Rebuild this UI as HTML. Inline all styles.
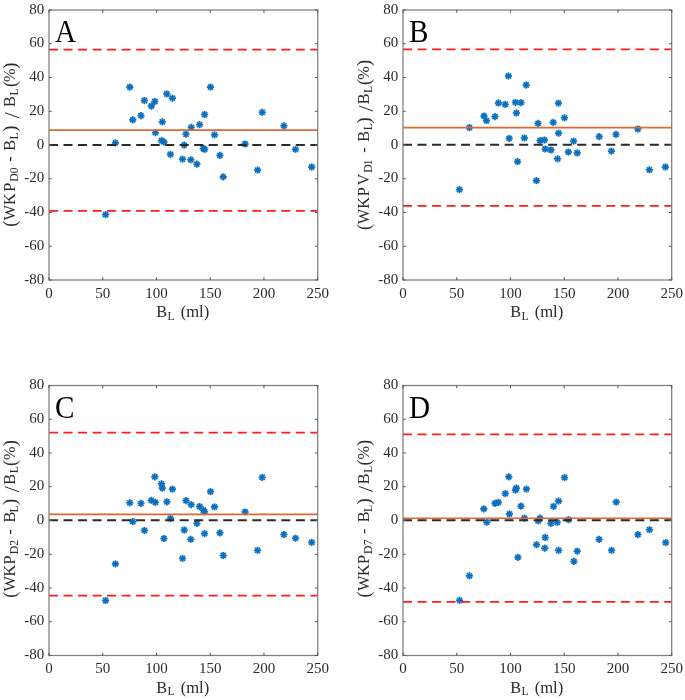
<!DOCTYPE html><html><head><meta charset="utf-8"><style>
html,body{margin:0;padding:0;background:#fff;}
body{width:685px;height:700px;overflow:hidden;}
svg{display:block;font-family:"Liberation Serif", serif;will-change:transform;}
.t{font-size:15.00px;fill:#2b2b2b;}
.l{font-size:16.30px;fill:#2b2b2b;}
.s{font-size:11.60px;fill:#2b2b2b;}
.p{font-size:31.20px;fill:#000;}
</style></head><body>
<svg width="685" height="700" viewBox="0 0 685 700">
<defs><g id="m" stroke="#0a6fbf" stroke-width="1.75" stroke-linecap="butt"><line x1="-3.6" y1="0" x2="3.6" y2="0"/><line x1="0" y1="-3.6" x2="0" y2="3.6"/><line x1="-2.55" y1="-2.55" x2="2.55" y2="2.55"/><line x1="-2.55" y1="2.55" x2="2.55" y2="-2.55"/></g></defs>
<rect width="685" height="700" fill="#fff"/>
<g>
<use href="#m" x="105.6" y="214.6"/>
<use href="#m" x="115.4" y="142.9"/>
<use href="#m" x="129.8" y="87.1"/>
<use href="#m" x="132.8" y="119.9"/>
<use href="#m" x="141.0" y="115.7"/>
<use href="#m" x="144.4" y="100.5"/>
<use href="#m" x="151.3" y="106.1"/>
<use href="#m" x="154.8" y="101.5"/>
<use href="#m" x="155.4" y="132.7"/>
<use href="#m" x="161.5" y="140.6"/>
<use href="#m" x="162.3" y="121.8"/>
<use href="#m" x="163.9" y="141.9"/>
<use href="#m" x="166.9" y="94.0"/>
<use href="#m" x="170.4" y="154.4"/>
<use href="#m" x="172.4" y="98.2"/>
<use href="#m" x="182.5" y="159.2"/>
<use href="#m" x="184.2" y="145.1"/>
<use href="#m" x="186.0" y="134.2"/>
<use href="#m" x="190.8" y="159.8"/>
<use href="#m" x="191.2" y="127.4"/>
<use href="#m" x="196.9" y="164.2"/>
<use href="#m" x="199.6" y="124.7"/>
<use href="#m" x="203.3" y="148.4"/>
<use href="#m" x="204.6" y="149.3"/>
<use href="#m" x="204.6" y="114.5"/>
<use href="#m" x="210.5" y="87.1"/>
<use href="#m" x="214.5" y="134.8"/>
<use href="#m" x="219.9" y="155.4"/>
<use href="#m" x="223.2" y="176.9"/>
<use href="#m" x="245.1" y="144.0"/>
<use href="#m" x="257.6" y="170.1"/>
<use href="#m" x="262.2" y="112.3"/>
<use href="#m" x="283.9" y="125.8"/>
<use href="#m" x="295.5" y="149.3"/>
<use href="#m" x="311.7" y="167.0"/>
</g>
<g>
<line x1="49.00" y1="49.60" x2="317.70" y2="49.60" stroke="#ff1c1c" stroke-width="1.7" stroke-dasharray="9 5.52"/>
<line x1="49.00" y1="210.80" x2="317.70" y2="210.80" stroke="#ff1c1c" stroke-width="1.7" stroke-dasharray="9 5.52"/>
<line x1="49.00" y1="130.10" x2="317.70" y2="130.10" stroke="#e0672f" stroke-width="1.6"/>
<line x1="49.00" y1="145.00" x2="317.70" y2="145.00" stroke="#2a2a2a" stroke-width="2" stroke-dasharray="9 5.52"/>
</g>
<rect x="49.00" y="10.00" width="268.70" height="270.00" fill="none" stroke="#7d7d7d" stroke-width="1.25"/>
<path d="M49.00 280.00v-2.8M49.00 10.00v2.8M102.74 280.00v-2.8M102.74 10.00v2.8M156.48 280.00v-2.8M156.48 10.00v2.8M210.22 280.00v-2.8M210.22 10.00v2.8M263.96 280.00v-2.8M263.96 10.00v2.8M317.70 280.00v-2.8M317.70 10.00v2.8M49.00 10.00h2.8M317.70 10.00h-2.8M49.00 43.75h2.8M317.70 43.75h-2.8M49.00 77.50h2.8M317.70 77.50h-2.8M49.00 111.25h2.8M317.70 111.25h-2.8M49.00 145.00h2.8M317.70 145.00h-2.8M49.00 178.75h2.8M317.70 178.75h-2.8M49.00 212.50h2.8M317.70 212.50h-2.8M49.00 246.25h2.8M317.70 246.25h-2.8M49.00 280.00h2.8M317.70 280.00h-2.8" stroke="#5a5a5a" stroke-width="1.1" fill="none"/>
<text class="t" x="49.00" y="297.80" text-anchor="middle">0</text>
<text class="t" x="102.74" y="297.80" text-anchor="middle">50</text>
<text class="t" x="156.48" y="297.80" text-anchor="middle">100</text>
<text class="t" x="210.22" y="297.80" text-anchor="middle">150</text>
<text class="t" x="263.96" y="297.80" text-anchor="middle">200</text>
<text class="t" x="317.70" y="297.80" text-anchor="middle">250</text>
<text class="t" x="44.30" y="13.50" text-anchor="end">80</text>
<text class="t" x="44.30" y="47.25" text-anchor="end">60</text>
<text class="t" x="44.30" y="81.00" text-anchor="end">40</text>
<text class="t" x="44.30" y="114.75" text-anchor="end">20</text>
<text class="t" x="44.30" y="148.50" text-anchor="end">0</text>
<text class="t" x="44.30" y="182.25" text-anchor="end">-20</text>
<text class="t" x="44.30" y="216.00" text-anchor="end">-40</text>
<text class="t" x="44.30" y="249.75" text-anchor="end">-60</text>
<text class="t" x="44.30" y="283.50" text-anchor="end">-80</text>
<text class="l" x="161.60" y="317.20" text-anchor="middle">B</text>
<text class="s" x="170.95" y="319.60" text-anchor="middle">L</text>
<text class="l" x="180.65" y="317.20" textLength="28.6" lengthAdjust="spacingAndGlyphs">(ml)</text>
<g transform="translate(15.20 144.85) rotate(-90)">
<text class="l" x="-78.90" y="1.0" text-anchor="middle" style="font-size:18.6px">(</text>
<text class="l" x="-67.85" y="0" text-anchor="middle">W</text>
<text class="l" x="-54.25" y="0" text-anchor="middle">K</text>
<text class="l" x="-42.30" y="0" text-anchor="middle">P</text>
<text class="s" x="-32.65" y="2.7" text-anchor="middle">D</text>
<text class="s" x="-25.50" y="2.7" text-anchor="middle">0</text>
<text class="l" x="-14.25" y="0" text-anchor="middle">-</text>
<text class="l" x="-0.35" y="0" text-anchor="middle">B</text>
<text class="s" x="8.95" y="2.7" text-anchor="middle">L</text>
<text class="l" x="16.10" y="1.0" text-anchor="middle" style="font-size:18.6px">)</text>
<text class="l" x="29.60" y="3.6" text-anchor="middle" style="font-size:22px">/</text>
<text class="l" x="43.25" y="0" text-anchor="middle">B</text>
<text class="s" x="52.90" y="2.7" text-anchor="middle">L</text>
<text class="l" x="60.90" y="1.0" text-anchor="middle" style="font-size:18.6px">(</text>
<text class="l" x="69.65" y="0" text-anchor="middle">%</text>
<text class="l" x="79.10" y="1.0" text-anchor="middle" style="font-size:18.6px">)</text>
</g>
<text class="p" transform="translate(55.00 42.00) scale(0.935 1)">A</text>
<g>
<use href="#m" x="459.4" y="189.6"/>
<use href="#m" x="469.4" y="127.6"/>
<use href="#m" x="484.0" y="116.0"/>
<use href="#m" x="486.4" y="120.6"/>
<use href="#m" x="495.0" y="116.6"/>
<use href="#m" x="498.4" y="103.0"/>
<use href="#m" x="505.2" y="104.4"/>
<use href="#m" x="508.4" y="76.0"/>
<use href="#m" x="509.2" y="138.4"/>
<use href="#m" x="515.4" y="102.4"/>
<use href="#m" x="521.0" y="102.6"/>
<use href="#m" x="516.4" y="113.0"/>
<use href="#m" x="517.6" y="161.6"/>
<use href="#m" x="526.2" y="85.0"/>
<use href="#m" x="524.4" y="138.0"/>
<use href="#m" x="538.0" y="123.4"/>
<use href="#m" x="536.4" y="180.6"/>
<use href="#m" x="540.0" y="140.6"/>
<use href="#m" x="544.4" y="140.0"/>
<use href="#m" x="545.2" y="149.0"/>
<use href="#m" x="551.0" y="150.0"/>
<use href="#m" x="553.2" y="122.4"/>
<use href="#m" x="558.4" y="103.2"/>
<use href="#m" x="558.6" y="133.2"/>
<use href="#m" x="557.6" y="158.8"/>
<use href="#m" x="564.4" y="117.8"/>
<use href="#m" x="568.4" y="152.0"/>
<use href="#m" x="573.6" y="141.2"/>
<use href="#m" x="577.2" y="153.0"/>
<use href="#m" x="599.2" y="136.6"/>
<use href="#m" x="611.4" y="151.2"/>
<use href="#m" x="616.0" y="134.4"/>
<use href="#m" x="637.8" y="129.0"/>
<use href="#m" x="649.4" y="169.8"/>
<use href="#m" x="665.4" y="167.0"/>
</g>
<g>
<line x1="403.00" y1="49.40" x2="671.70" y2="49.40" stroke="#ff1c1c" stroke-width="1.7" stroke-dasharray="9 5.52"/>
<line x1="403.00" y1="205.90" x2="671.70" y2="205.90" stroke="#ff1c1c" stroke-width="1.7" stroke-dasharray="9 5.52"/>
<line x1="403.00" y1="127.60" x2="671.70" y2="127.60" stroke="#e0672f" stroke-width="1.6"/>
<line x1="403.00" y1="144.80" x2="671.70" y2="144.80" stroke="#2a2a2a" stroke-width="2" stroke-dasharray="9 5.52"/>
</g>
<rect x="403.00" y="10.00" width="268.70" height="270.00" fill="none" stroke="#7d7d7d" stroke-width="1.25"/>
<path d="M403.00 280.00v-2.8M403.00 10.00v2.8M456.74 280.00v-2.8M456.74 10.00v2.8M510.48 280.00v-2.8M510.48 10.00v2.8M564.22 280.00v-2.8M564.22 10.00v2.8M617.96 280.00v-2.8M617.96 10.00v2.8M671.70 280.00v-2.8M671.70 10.00v2.8M403.00 10.00h2.8M671.70 10.00h-2.8M403.00 43.75h2.8M671.70 43.75h-2.8M403.00 77.50h2.8M671.70 77.50h-2.8M403.00 111.25h2.8M671.70 111.25h-2.8M403.00 145.00h2.8M671.70 145.00h-2.8M403.00 178.75h2.8M671.70 178.75h-2.8M403.00 212.50h2.8M671.70 212.50h-2.8M403.00 246.25h2.8M671.70 246.25h-2.8M403.00 280.00h2.8M671.70 280.00h-2.8" stroke="#5a5a5a" stroke-width="1.1" fill="none"/>
<text class="t" x="403.00" y="297.80" text-anchor="middle">0</text>
<text class="t" x="456.74" y="297.80" text-anchor="middle">50</text>
<text class="t" x="510.48" y="297.80" text-anchor="middle">100</text>
<text class="t" x="564.22" y="297.80" text-anchor="middle">150</text>
<text class="t" x="617.96" y="297.80" text-anchor="middle">200</text>
<text class="t" x="671.70" y="297.80" text-anchor="middle">250</text>
<text class="t" x="398.30" y="13.50" text-anchor="end">80</text>
<text class="t" x="398.30" y="47.25" text-anchor="end">60</text>
<text class="t" x="398.30" y="81.00" text-anchor="end">40</text>
<text class="t" x="398.30" y="114.75" text-anchor="end">20</text>
<text class="t" x="398.30" y="148.50" text-anchor="end">0</text>
<text class="t" x="398.30" y="182.25" text-anchor="end">-20</text>
<text class="t" x="398.30" y="216.00" text-anchor="end">-40</text>
<text class="t" x="398.30" y="249.75" text-anchor="end">-60</text>
<text class="t" x="398.30" y="283.50" text-anchor="end">-80</text>
<text class="l" x="515.60" y="317.20" text-anchor="middle">B</text>
<text class="s" x="524.95" y="319.60" text-anchor="middle">L</text>
<text class="l" x="534.65" y="317.20" textLength="28.6" lengthAdjust="spacingAndGlyphs">(ml)</text>
<g transform="translate(369.20 145.00) rotate(-90)">
<text class="l" x="-81.90" y="1.0" text-anchor="middle" style="font-size:18.6px">(</text>
<text class="l" x="-71.55" y="0" text-anchor="middle">W</text>
<text class="l" x="-57.80" y="0" text-anchor="middle">K</text>
<text class="l" x="-46.70" y="0" text-anchor="middle">P</text>
<text class="l" x="-34.65" y="0" text-anchor="middle">V</text>
<text class="s" x="-23.60" y="2.7" text-anchor="middle">D</text>
<text class="s" x="-17.35" y="2.7" text-anchor="middle">1</text>
<text class="l" x="-5.00" y="0" text-anchor="middle">-</text>
<text class="l" x="8.60" y="0" text-anchor="middle">B</text>
<text class="s" x="18.20" y="2.7" text-anchor="middle">L</text>
<text class="l" x="24.70" y="1.0" text-anchor="middle" style="font-size:18.6px">)</text>
<text class="l" x="36.65" y="3.6" text-anchor="middle" style="font-size:22px">/</text>
<text class="l" x="46.10" y="0" text-anchor="middle">B</text>
<text class="s" x="55.50" y="2.7" text-anchor="middle">L</text>
<text class="l" x="63.15" y="1.0" text-anchor="middle" style="font-size:18.6px">(</text>
<text class="l" x="72.15" y="0" text-anchor="middle">%</text>
<text class="l" x="82.15" y="1.0" text-anchor="middle" style="font-size:18.6px">)</text>
</g>
<text class="p" transform="translate(409.00 42.00) scale(0.935 1)">B</text>
<g>
<use href="#m" x="105.6" y="600.5"/>
<use href="#m" x="115.4" y="563.9"/>
<use href="#m" x="129.8" y="502.8"/>
<use href="#m" x="132.8" y="521.6"/>
<use href="#m" x="141.0" y="503.4"/>
<use href="#m" x="144.4" y="530.4"/>
<use href="#m" x="151.3" y="500.3"/>
<use href="#m" x="155.4" y="502.4"/>
<use href="#m" x="154.8" y="476.8"/>
<use href="#m" x="161.5" y="483.8"/>
<use href="#m" x="162.3" y="488.1"/>
<use href="#m" x="163.9" y="538.5"/>
<use href="#m" x="166.9" y="501.8"/>
<use href="#m" x="172.4" y="489.1"/>
<use href="#m" x="170.4" y="518.5"/>
<use href="#m" x="184.2" y="530.0"/>
<use href="#m" x="186.0" y="500.7"/>
<use href="#m" x="182.5" y="558.4"/>
<use href="#m" x="190.8" y="539.3"/>
<use href="#m" x="191.2" y="504.7"/>
<use href="#m" x="196.9" y="523.4"/>
<use href="#m" x="199.6" y="506.5"/>
<use href="#m" x="203.3" y="510.2"/>
<use href="#m" x="204.6" y="511.8"/>
<use href="#m" x="204.6" y="533.6"/>
<use href="#m" x="210.5" y="491.6"/>
<use href="#m" x="214.5" y="506.9"/>
<use href="#m" x="219.9" y="532.8"/>
<use href="#m" x="223.2" y="555.5"/>
<use href="#m" x="245.1" y="512.0"/>
<use href="#m" x="257.6" y="550.3"/>
<use href="#m" x="262.2" y="477.4"/>
<use href="#m" x="283.9" y="534.5"/>
<use href="#m" x="295.5" y="538.2"/>
<use href="#m" x="311.7" y="542.4"/>
</g>
<g>
<line x1="49.00" y1="432.70" x2="317.70" y2="432.70" stroke="#ff1c1c" stroke-width="1.7" stroke-dasharray="9 5.52"/>
<line x1="49.00" y1="595.60" x2="317.70" y2="595.60" stroke="#ff1c1c" stroke-width="1.7" stroke-dasharray="9 5.52"/>
<line x1="49.00" y1="514.40" x2="317.70" y2="514.40" stroke="#e0672f" stroke-width="1.6"/>
<line x1="49.00" y1="520.30" x2="317.70" y2="520.30" stroke="#2a2a2a" stroke-width="2" stroke-dasharray="9 5.52"/>
</g>
<rect x="49.00" y="385.50" width="268.70" height="270.00" fill="none" stroke="#7d7d7d" stroke-width="1.25"/>
<path d="M49.00 655.50v-2.8M49.00 385.50v2.8M102.74 655.50v-2.8M102.74 385.50v2.8M156.48 655.50v-2.8M156.48 385.50v2.8M210.22 655.50v-2.8M210.22 385.50v2.8M263.96 655.50v-2.8M263.96 385.50v2.8M317.70 655.50v-2.8M317.70 385.50v2.8M49.00 385.50h2.8M317.70 385.50h-2.8M49.00 419.25h2.8M317.70 419.25h-2.8M49.00 453.00h2.8M317.70 453.00h-2.8M49.00 486.75h2.8M317.70 486.75h-2.8M49.00 520.50h2.8M317.70 520.50h-2.8M49.00 554.25h2.8M317.70 554.25h-2.8M49.00 588.00h2.8M317.70 588.00h-2.8M49.00 621.75h2.8M317.70 621.75h-2.8M49.00 655.50h2.8M317.70 655.50h-2.8" stroke="#5a5a5a" stroke-width="1.1" fill="none"/>
<text class="t" x="49.00" y="673.30" text-anchor="middle">0</text>
<text class="t" x="102.74" y="673.30" text-anchor="middle">50</text>
<text class="t" x="156.48" y="673.30" text-anchor="middle">100</text>
<text class="t" x="210.22" y="673.30" text-anchor="middle">150</text>
<text class="t" x="263.96" y="673.30" text-anchor="middle">200</text>
<text class="t" x="317.70" y="673.30" text-anchor="middle">250</text>
<text class="t" x="44.30" y="389.00" text-anchor="end">80</text>
<text class="t" x="44.30" y="422.75" text-anchor="end">60</text>
<text class="t" x="44.30" y="456.50" text-anchor="end">40</text>
<text class="t" x="44.30" y="490.25" text-anchor="end">20</text>
<text class="t" x="44.30" y="524.00" text-anchor="end">0</text>
<text class="t" x="44.30" y="557.75" text-anchor="end">-20</text>
<text class="t" x="44.30" y="591.50" text-anchor="end">-40</text>
<text class="t" x="44.30" y="625.25" text-anchor="end">-60</text>
<text class="t" x="44.30" y="659.00" text-anchor="end">-80</text>
<text class="l" x="161.60" y="692.70" text-anchor="middle">B</text>
<text class="s" x="170.95" y="695.10" text-anchor="middle">L</text>
<text class="l" x="180.65" y="692.70" textLength="28.6" lengthAdjust="spacingAndGlyphs">(ml)</text>
<g transform="translate(15.20 518.90) rotate(-90)">
<text class="l" x="-75.85" y="1.0" text-anchor="middle" style="font-size:18.6px">(</text>
<text class="l" x="-64.90" y="0" text-anchor="middle">W</text>
<text class="l" x="-51.70" y="0" text-anchor="middle">K</text>
<text class="l" x="-41.00" y="0" text-anchor="middle">P</text>
<text class="s" x="-31.20" y="2.7" text-anchor="middle">D</text>
<text class="s" x="-23.85" y="2.7" text-anchor="middle">2</text>
<text class="l" x="-12.90" y="0" text-anchor="middle">-</text>
<text class="l" x="1.75" y="0" text-anchor="middle">B</text>
<text class="s" x="10.00" y="2.7" text-anchor="middle">L</text>
<text class="l" x="17.10" y="1.0" text-anchor="middle" style="font-size:18.6px">)</text>
<text class="l" x="29.60" y="3.6" text-anchor="middle" style="font-size:22px">/</text>
<text class="l" x="39.60" y="0" text-anchor="middle">B</text>
<text class="s" x="49.25" y="2.7" text-anchor="middle">L</text>
<text class="l" x="56.05" y="1.0" text-anchor="middle" style="font-size:18.6px">(</text>
<text class="l" x="65.70" y="0" text-anchor="middle">%</text>
<text class="l" x="75.70" y="1.0" text-anchor="middle" style="font-size:18.6px">)</text>
</g>
<text class="p" transform="translate(55.00 418.00) scale(0.935 1)">C</text>
<g>
<use href="#m" x="459.6" y="600.3"/>
<use href="#m" x="469.4" y="575.8"/>
<use href="#m" x="483.8" y="508.9"/>
<use href="#m" x="486.8" y="522.2"/>
<use href="#m" x="495.0" y="503.4"/>
<use href="#m" x="498.4" y="502.4"/>
<use href="#m" x="505.3" y="493.6"/>
<use href="#m" x="508.8" y="476.8"/>
<use href="#m" x="509.4" y="514.0"/>
<use href="#m" x="515.5" y="490.1"/>
<use href="#m" x="516.3" y="488.1"/>
<use href="#m" x="517.9" y="557.4"/>
<use href="#m" x="520.9" y="506.2"/>
<use href="#m" x="526.4" y="489.1"/>
<use href="#m" x="524.4" y="518.1"/>
<use href="#m" x="536.5" y="544.7"/>
<use href="#m" x="538.2" y="520.8"/>
<use href="#m" x="540.0" y="518.1"/>
<use href="#m" x="544.8" y="548.2"/>
<use href="#m" x="545.2" y="537.5"/>
<use href="#m" x="550.9" y="523.3"/>
<use href="#m" x="553.6" y="506.4"/>
<use href="#m" x="557.3" y="522.3"/>
<use href="#m" x="558.6" y="550.3"/>
<use href="#m" x="558.6" y="501.1"/>
<use href="#m" x="564.5" y="477.6"/>
<use href="#m" x="568.5" y="519.7"/>
<use href="#m" x="573.9" y="561.4"/>
<use href="#m" x="577.2" y="551.2"/>
<use href="#m" x="599.1" y="539.4"/>
<use href="#m" x="611.6" y="550.3"/>
<use href="#m" x="616.2" y="502.1"/>
<use href="#m" x="637.9" y="534.6"/>
<use href="#m" x="649.5" y="529.7"/>
<use href="#m" x="665.7" y="542.6"/>
</g>
<g>
<line x1="403.00" y1="434.30" x2="671.70" y2="434.30" stroke="#ff1c1c" stroke-width="1.7" stroke-dasharray="9 5.52"/>
<line x1="403.00" y1="601.90" x2="671.70" y2="601.90" stroke="#ff1c1c" stroke-width="1.7" stroke-dasharray="9 5.52"/>
<line x1="403.00" y1="518.30" x2="671.70" y2="518.30" stroke="#e0672f" stroke-width="1.6"/>
<line x1="403.00" y1="520.30" x2="671.70" y2="520.30" stroke="#2a2a2a" stroke-width="2" stroke-dasharray="9 5.52"/>
</g>
<rect x="403.00" y="385.50" width="268.70" height="270.00" fill="none" stroke="#7d7d7d" stroke-width="1.25"/>
<path d="M403.00 655.50v-2.8M403.00 385.50v2.8M456.74 655.50v-2.8M456.74 385.50v2.8M510.48 655.50v-2.8M510.48 385.50v2.8M564.22 655.50v-2.8M564.22 385.50v2.8M617.96 655.50v-2.8M617.96 385.50v2.8M671.70 655.50v-2.8M671.70 385.50v2.8M403.00 385.50h2.8M671.70 385.50h-2.8M403.00 419.25h2.8M671.70 419.25h-2.8M403.00 453.00h2.8M671.70 453.00h-2.8M403.00 486.75h2.8M671.70 486.75h-2.8M403.00 520.50h2.8M671.70 520.50h-2.8M403.00 554.25h2.8M671.70 554.25h-2.8M403.00 588.00h2.8M671.70 588.00h-2.8M403.00 621.75h2.8M671.70 621.75h-2.8M403.00 655.50h2.8M671.70 655.50h-2.8" stroke="#5a5a5a" stroke-width="1.1" fill="none"/>
<text class="t" x="403.00" y="673.30" text-anchor="middle">0</text>
<text class="t" x="456.74" y="673.30" text-anchor="middle">50</text>
<text class="t" x="510.48" y="673.30" text-anchor="middle">100</text>
<text class="t" x="564.22" y="673.30" text-anchor="middle">150</text>
<text class="t" x="617.96" y="673.30" text-anchor="middle">200</text>
<text class="t" x="671.70" y="673.30" text-anchor="middle">250</text>
<text class="t" x="398.30" y="389.00" text-anchor="end">80</text>
<text class="t" x="398.30" y="422.75" text-anchor="end">60</text>
<text class="t" x="398.30" y="456.50" text-anchor="end">40</text>
<text class="t" x="398.30" y="490.25" text-anchor="end">20</text>
<text class="t" x="398.30" y="524.00" text-anchor="end">0</text>
<text class="t" x="398.30" y="557.75" text-anchor="end">-20</text>
<text class="t" x="398.30" y="591.50" text-anchor="end">-40</text>
<text class="t" x="398.30" y="625.25" text-anchor="end">-60</text>
<text class="t" x="398.30" y="659.00" text-anchor="end">-80</text>
<text class="l" x="515.60" y="692.70" text-anchor="middle">B</text>
<text class="s" x="524.95" y="695.10" text-anchor="middle">L</text>
<text class="l" x="534.65" y="692.70" textLength="28.6" lengthAdjust="spacingAndGlyphs">(ml)</text>
<g transform="translate(369.20 518.50) rotate(-90)">
<text class="l" x="-75.85" y="1.0" text-anchor="middle" style="font-size:18.6px">(</text>
<text class="l" x="-64.90" y="0" text-anchor="middle">W</text>
<text class="l" x="-51.70" y="0" text-anchor="middle">K</text>
<text class="l" x="-41.00" y="0" text-anchor="middle">P</text>
<text class="s" x="-31.20" y="2.7" text-anchor="middle">D</text>
<text class="s" x="-23.85" y="2.7" text-anchor="middle">7</text>
<text class="l" x="-12.90" y="0" text-anchor="middle">-</text>
<text class="l" x="1.75" y="0" text-anchor="middle">B</text>
<text class="s" x="10.00" y="2.7" text-anchor="middle">L</text>
<text class="l" x="17.10" y="1.0" text-anchor="middle" style="font-size:18.6px">)</text>
<text class="l" x="29.60" y="3.6" text-anchor="middle" style="font-size:22px">/</text>
<text class="l" x="39.60" y="0" text-anchor="middle">B</text>
<text class="s" x="49.25" y="2.7" text-anchor="middle">L</text>
<text class="l" x="56.05" y="1.0" text-anchor="middle" style="font-size:18.6px">(</text>
<text class="l" x="65.70" y="0" text-anchor="middle">%</text>
<text class="l" x="75.70" y="1.0" text-anchor="middle" style="font-size:18.6px">)</text>
</g>
<text class="p" transform="translate(409.00 418.00) scale(0.935 1)">D</text>
</svg></body></html>
